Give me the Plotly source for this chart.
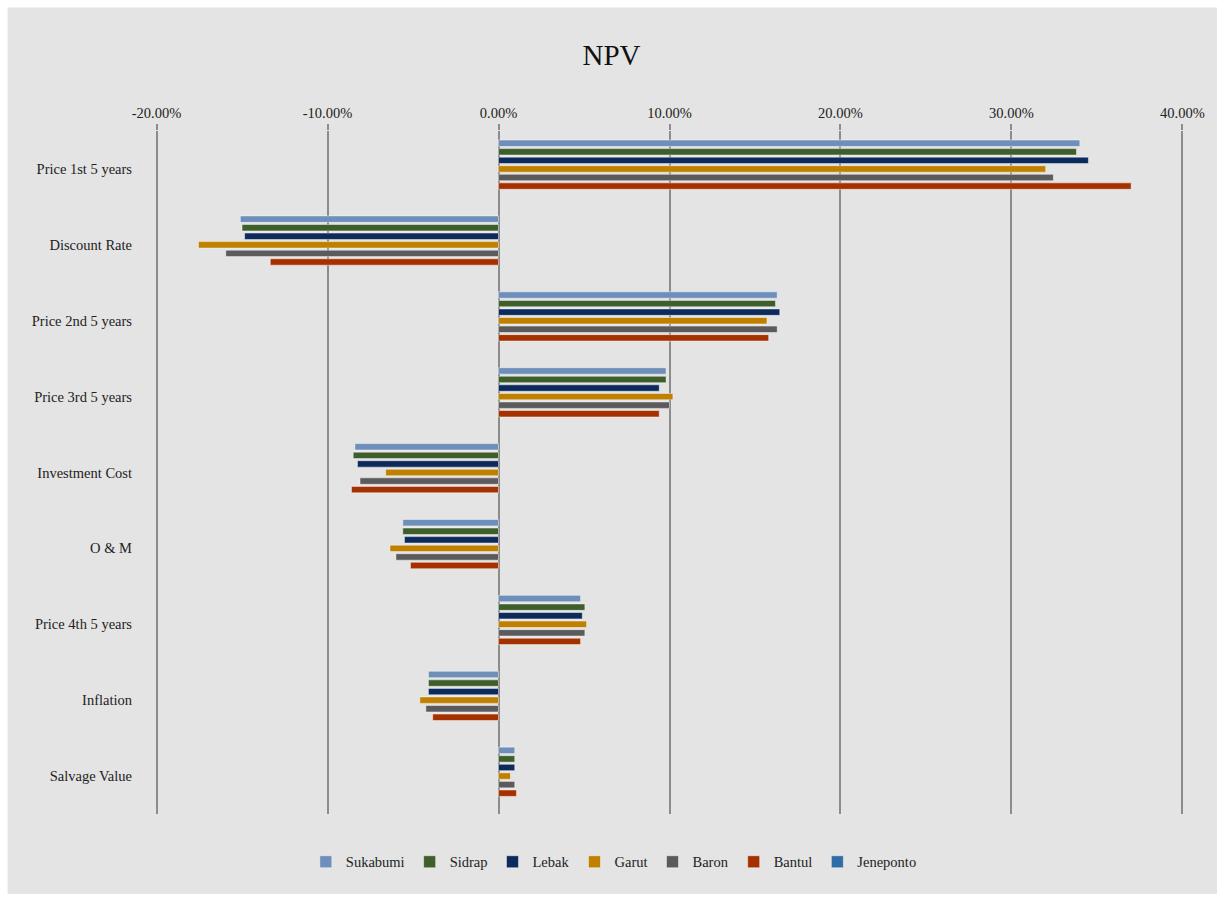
import plotly.graph_objects as go

# Sensitivity of NPV (% change) per parameter and site
categories = [
    "Price 1st 5 years", "Discount Rate", "Price 2nd 5 years", "Price 3rd 5 years",
    "Investment Cost", "O & M", "Price 4th 5 years", "Inflation", "Salvage Value",
]
sukabumi = [34.0, -15.1, 16.3, 9.8, -8.4, -5.6, 4.8, -4.1, 0.95]
sidrap = [33.8, -15.0, 16.2, 9.8, -8.5, -5.6, 5.05, -4.1, 0.95]
lebak = [34.5, -14.85, 16.45, 9.4, -8.25, -5.5, 4.9, -4.1, 0.95]
garut = [32.0, -17.55, 15.7, 10.2, -6.6, -6.35, 5.15, -4.6, 0.7]
baron = [32.45, -15.95, 16.3, 10.0, -8.1, -6.0, 5.05, -4.25, 0.95]
bantul = [37.0, -13.35, 15.8, 9.4, -8.6, -5.15, 4.8, -3.85, 1.05]
jeneponto = [None] * 9

series_names = ["Sukabumi", "Sidrap", "Lebak", "Garut", "Baron", "Bantul", "Jeneponto"]
series_values = [sukabumi, sidrap, lebak, garut, baron, bantul, jeneponto]
series_colors = ["#6f8fbb", "#3e5e2b", "#0d2a5d", "#bf8000", "#5b5b5b", "#a63100", "#2f6da6"]

tick_values = [-20, -10, 0, 10, 20, 30, 40]
tick_labels = ["-20.00%", "-10.00%", "0.00%", "10.00%", "20.00%", "30.00%", "40.00%"]

SERIF = "Liberation Serif, Times New Roman, serif"
BG = "#e4e4e4"
GRID = "#8c8c8c"

# axis padded slightly past the outer ticks so the edge gridlines are drawn
X_RANGE = [-20.15, 40.15]

fig = go.Figure()
for name, vals, color in zip(series_names, series_values, series_colors):
    fig.add_trace(go.Bar(
        name=name,
        y=categories,
        x=vals,
        orientation="h",
        marker=dict(color=color, line=dict(color="rgba(255,255,255,0.45)", width=1)),
    ))

fig.update_layout(
    width=1223,
    height=901,
    barmode="group",
    bargap=0.21,
    bargroupgap=0.25,
    paper_bgcolor="white",
    plot_bgcolor=BG,
    margin=dict(l=154, r=38, t=131, b=87),
    font=dict(family=SERIF, size=14.5, color="#222222"),
    title=dict(
        text="NPV",
        x=0.5, xanchor="center",
        y=1 - 55 / 901, yanchor="middle", yref="container",
        font=dict(family=SERIF, size=29, color="#111111"),
    ),
    showlegend=True,
    legend=dict(
        orientation="h",
        x=0.446, xanchor="center",
        y=-0.07, yanchor="middle",
        traceorder="normal",
        font=dict(family=SERIF, size=14.5, color="#222222"),
        bgcolor="rgba(0,0,0,0)",
        itemwidth=30,
    ),
    shapes=[dict(
        type="rect", xref="paper", yref="paper",
        x0=-0.142, x1=1.031, y0=-0.117, y1=1.181,
        fillcolor=BG, line=dict(width=0), layer="below",
    )],
)

fig.update_xaxes(
    side="top",
    range=X_RANGE,
    tickvals=tick_values,
    ticktext=tick_labels,
    showgrid=True,
    gridcolor=GRID,
    gridwidth=1.5,
    zeroline=False,
    showline=False,
    ticks="outside",
    ticklen=6,
    tickwidth=1.5,
    tickcolor=GRID,
    ticklabelstandoff=0,
    tickfont=dict(family=SERIF, size=14.5, color="#222222"),
)
fig.update_yaxes(
    autorange="reversed",
    showgrid=False,
    zeroline=False,
    showline=False,
    ticks="",
    ticklabelstandoff=21,
    tickfont=dict(family=SERIF, size=14.5, color="#222222"),
)

fig.write_html("out.html")
